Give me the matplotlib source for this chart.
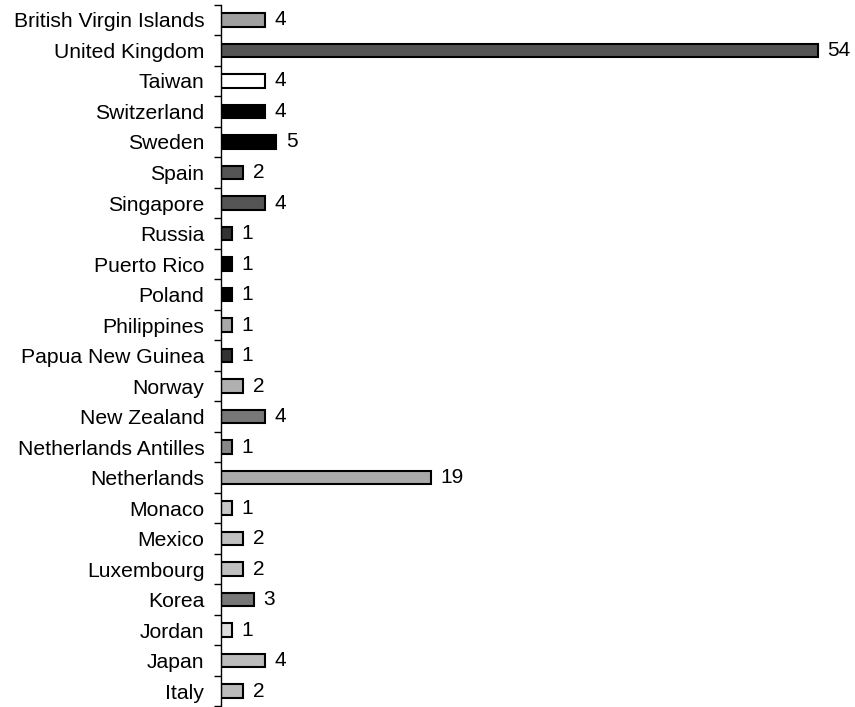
import matplotlib
matplotlib.use("Agg")
import matplotlib.pyplot as plt
import numpy as np

countries = ["British Virgin Islands", "United Kingdom", "Taiwan", "Switzerland", "Sweden",
             "Spain", "Singapore", "Russia", "Puerto Rico", "Poland", "Philippines",
             "Papua New Guinea", "Norway", "New Zealand", "Netherlands Antilles",
             "Netherlands", "Monaco", "Mexico", "Luxembourg", "Korea", "Jordan", "Japan", "Italy"]
values = [4, 54, 4, 4, 5, 2, 4, 1, 1, 1, 1, 1, 2, 4, 1, 19, 1, 2, 2, 3, 1, 4, 2]
colors = ["#a0a0a0", "#555555", "#ffffff", "#000000", "#000000", "#555555", "#555555",
          "#333333", "#000000", "#000000", "#a8a8a8", "#333333", "#b0b0b0", "#777777",
          "#888888", "#aaaaaa", "#c8c8c8", "#c0c0c0", "#c0c0c0", "#777777", "#dddddd",
          "#bbbbbb", "#bbbbbb"]

plt.rcParams['font.family'] = ['Liberation Sans', 'DejaVu Sans']
fig = plt.figure(figsize=(8.55, 7.07), dpi=100)
ax = fig.add_axes([0.2585, 0.001, 0.724, 0.9923])

y = np.arange(len(countries))
ax.barh(y, values, height=0.43, color=colors, edgecolor="black", linewidth=1.5)
for yi, v in zip(y, values):
    ax.text(v + 0.85, yi, str(v), va="center", ha="left", fontsize=15)

ax.set_ylim(len(countries) - 0.5, -0.5)
ax.set_xlim(0, 56)
ax.set_yticks(y)
ax.set_yticklabels(countries, fontsize=15.2)
ax.tick_params(axis="y", which="major", length=0, pad=12)
ax.set_yticks(np.arange(-0.5, len(countries)), minor=True)
ax.tick_params(axis="y", which="minor", length=5, width=1, direction="out")
ax.set_xticks([])
for s in ["top", "right", "bottom"]:
    ax.spines[s].set_visible(False)
ax.spines["left"].set_linewidth(1)

fig.savefig("out.png", dpi=100)
